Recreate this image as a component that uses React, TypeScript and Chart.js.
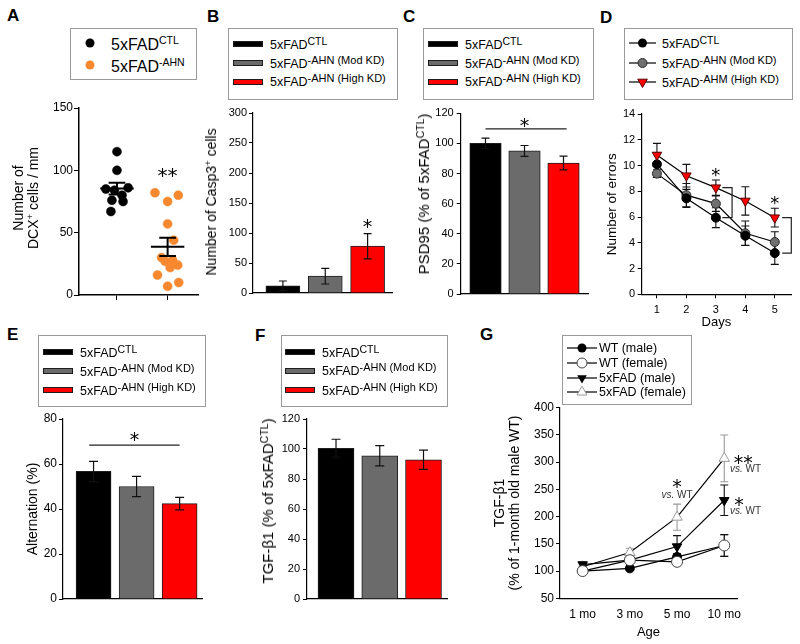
import React, { useEffect, useRef } from 'react';
import { Chart, registerables } from 'chart.js';

Chart.register(...registerables);

const FONT = 'Arial, "Liberation Sans", Helvetica, sans-serif';
const STAR_FONT = '"DejaVu Sans", Arial, sans-serif';

// ---------------- DATA ----------------
// Panel A: DCX+ cells / mm, individual animals (x jitter)
const aGroups = [1, 2];
const aCtlValues = [115, 100, 86, 85, 84, 80, 76, 75, 67];
const aCtlJitter = [0, 0, 0.22, -0.22, -0.05, 0.1, -0.1, 0.12, -0.12];
const aAhnValues = [82, 80, 75, 57, 44, 30, 28, 27, 24, 22, 16, 10, 7];
const aAhnJitter = [-0.25, 0.21, 0, 0, 0.12, -0.12, 0.1, -0.05, 0.2, 0.05, -0.2, 0.22, 0];
const aStars = [{ x: 2, y: 100, text: '**' }];

// Bars (B, C, E, F): CTL, Mod KD, High KD
const barGroups = [1, 2, 3];
const barColors = ['#000000', '#6b6b6b', '#ff0000'];
const bValues = [12, 28, 78];
const bErrors = [8, 13, 21];
const bStars = [{ x: 3, y: 118, text: '*' }];
const cValues = [100, 95, 87];
const cErrors = [3.5, 3.6, 4.6];
const cSig = { x1: 1, x2: 3.08, y: 109.6 };
const cStars = [{ x: 2, y: 114.5, text: '*' }];
const eValues = [56.7, 50, 42.4];
const eErrors = [4.5, 4.5, 2.8];
const eSig = { x1: 0.9, x2: 3, y: 68.4 };
const eStars = [{ x: 1.95, y: 72.9, text: '*' }];
const fValues = [100.5, 95.5, 92.8];
const fErrors = [6, 6.7, 6.4];

// Panel D: number of errors per day
const dDays = [1, 2, 3, 4, 5];
const dCtl = [10.1, 7.45, 5.95, 4.55, 3.2];
const dCtlErr = [0.9, 0.7, 0.77, 0.75, 0.88];
const dMod = [9.37, 7.7, 7.04, 4.74, 4.06];
const dModErr = [0.3, 0.9, 0.6, 0.95, 0.8];
const dHigh = [10.82, 9.21, 8.28, 7.25, 5.95];
const dHighErr = [0.9, 0.88, 0.6, 1.1, 0.73];
const dStars = [{ x: 3, y: 9.57, text: '*' }, { x: 5, y: 7.4, text: '*' }];
const dBrackets = [{ day: 3, x1: 3.22, x2: 3.55 }, { day: 5, x1: 5.25, x2: 5.56 }];

// Panel G: TGF-b1 by age
const gAgeIdx = [1, 2, 3, 4];
const gAges = ['1 mo', '3 mo', '5 mo', '10 mo'];
const gWtMale = [100, 105, 126, 147];
const gWtMaleErr = [4, 4, 6, 20];
const gWtFemale = [100, 120, 117, 147];
const gWtFemaleErr = [4, 5, 5, 20];
const gFadMale = [112, 120, 145, 230];
const gFadMaleErr = [4, 5, 20, 28];
const gFadFemale = [108, 134, 199, 307];
const gFadFemaleErr = [5, 8, 24, 43];
const gStars = [{ x: 3, y: 262, text: '*' }, { x: 4.4, y: 307, text: '**' }, { x: 4.31, y: 229, text: '*' }];
const gVsLabels = [{ x: 3, y: 241.7 }, { x: 4.45, y: 289 }, { x: 4.45, y: 212 }];

const barLegend = [
  { main: '5xFAD', sup: 'CTL' },
  { main: '5xFAD', sup: '-AHN (Mod KD)' },
  { main: '5xFAD', sup: '-AHN (High KD)' },
];
const dLegend = [
  { main: '5xFAD', sup: 'CTL' },
  { main: '5xFAD', sup: '-AHN (Mod KD)' },
  { main: '5xFAD', sup: '-AHM (High KD)' },
];
const gLegend = ['WT (male)', 'WT (female)', '5xFAD (male)', '5xFAD (female)'];

// ---------------- HELPERS ----------------
type Rect = [number, number, number, number];
interface Geo { c: Rect; a: Rect }

function layoutFor(g: Geo) {
  const [cl, ct, cr, cb] = g.c;
  const [al, at, ar, ab] = g.a;
  return { w: cr - cl, h: cb - ct, yW: al - cl, xH: cb - ab, top: at - ct, right: cr - ar };
}
type L = ReturnType<typeof layoutFor>;

function baseOptions(L: L, scales: any) {
  return {
    responsive: false,
    animation: false,
    events: [],
    layout: { padding: { left: 0, top: L.top, right: L.right, bottom: 0 } },
    plugins: { legend: { display: false }, tooltip: { enabled: false }, title: { display: false } },
    scales,
  };
}

function yScale(L: L, o: any) {
  return {
    type: 'linear',
    position: 'left',
    min: o.min,
    max: o.max,
    ticks: { stepSize: o.step, color: '#000', font: { family: FONT, size: o.size }, padding: o.pad },
    grid: { display: true, drawOnChartArea: false, drawTicks: true, tickLength: o.tickLen, color: '#000', lineWidth: 1 },
    border: { display: true, color: '#000', width: o.border ?? 1.2 },
    title: o.title || { display: false },
    afterFit: (s: any) => { s.width = L.yW; },
  };
}

function xScale(L: L, o: any) {
  const showTicks = !!o.ticks;
  return {
    type: 'linear',
    position: 'bottom',
    min: o.min,
    max: o.max,
    offset: false,
    afterBuildTicks: (s: any) => { s.ticks = (o.ticks || barGroups).map((v: number) => ({ value: v })); },
    ticks: {
      display: !!o.labels,
      color: '#000',
      font: { family: FONT, size: o.size || 11 },
      padding: o.pad ?? 3,
      maxRotation: 0,
      autoSkip: false,
      callback: o.labels || ((v: any) => v),
    },
    grid: showTicks && o.tickLen
      ? { display: true, offset: false, drawOnChartArea: false, drawTicks: true, tickLength: o.tickLen, color: '#000', lineWidth: 1 }
      : { display: false, offset: false, drawTicks: false },
    border: { display: true, color: '#000', width: o.border ?? 1.2 },
    title: o.title || { display: false },
    afterFit: (s: any) => { s.height = L.xH; },
  };
}

function drawErr(ctx: CanvasRenderingContext2D, cx: number, y1: number, y2: number, half: number, color: string, lw: number) {
  ctx.save();
  ctx.strokeStyle = color;
  ctx.lineWidth = lw;
  ctx.beginPath();
  ctx.moveTo(cx, y1); ctx.lineTo(cx, y2);
  ctx.moveTo(cx - half, y1); ctx.lineTo(cx + half, y1);
  ctx.moveTo(cx - half, y2); ctx.lineTo(cx + half, y2);
  ctx.stroke();
  ctx.restore();
}

function drawStars(chart: any, stars: { x: number; y: number; text: string }[], size: number) {
  const ctx = chart.ctx;
  const X = chart.scales.x, Y = chart.scales.y;
  ctx.save();
  ctx.fillStyle = '#000';
  ctx.font = `${size}px ${STAR_FONT}`;
  ctx.textAlign = 'center';
  ctx.textBaseline = 'alphabetic';
  stars.forEach((s) => {
    ctx.fillText(s.text, X.getPixelForValue(s.x), Y.getPixelForValue(s.y) + size * 0.56);
  });
  ctx.restore();
}

function drawHLine(chart: any, s: { x1: number; x2: number; y: number }) {
  const ctx = chart.ctx;
  const X = chart.scales.x, Y = chart.scales.y;
  ctx.save();
  ctx.strokeStyle = '#222';
  ctx.lineWidth = 1.2;
  ctx.beginPath();
  const y = Y.getPixelForValue(s.y);
  ctx.moveTo(X.getPixelForValue(s.x1), y);
  ctx.lineTo(X.getPixelForValue(s.x2), y);
  ctx.stroke();
  ctx.restore();
}

function ChartPanel({ geo, build }: { geo: Geo; build: (L: L) => any }) {
  const ref = useRef<HTMLCanvasElement | null>(null);
  const L = layoutFor(geo);
  useEffect(() => {
    if (!ref.current) return;
    const chart = new Chart(ref.current, build(layoutFor(geo)));
    return () => chart.destroy();
  }, []);
  return (
    <canvas
      ref={ref}
      width={L.w}
      height={L.h}
      style={{ position: 'absolute', left: geo.c[0], top: geo.c[1], width: L.w, height: L.h }}
    />
  );
}

// ---------------- CHART BUILDERS ----------------
const aGeo: Geo = { c: [40, 95, 205, 310], a: [79, 108, 198, 295] };
function buildA(L: L) {
  const groups = [
    { values: aCtlValues, jitter: aCtlJitter, color: '#000000' },
    { values: aAhnValues, jitter: aAhnJitter, color: '#f7882f' },
  ];
  return {
    type: 'scatter',
    data: {
      datasets: groups.map((g, gi) => ({
        data: g.values.map((v, i) => ({ x: aGroups[gi] + g.jitter[i], y: v })),
        pointRadius: 4.5,
        pointBackgroundColor: g.color,
        pointBorderColor: g.color,
        pointBorderWidth: 0.5,
        showLine: false,
      })),
    },
    options: baseOptions(L, {
      x: xScale(L, { min: 0.25, max: 2.6, ticks: aGroups, tickLen: 5, border: 1.5 }),
      y: yScale(L, { min: 0, max: 150, step: 50, size: 12, tickLen: 5, pad: 1, border: 1.5 }),
    }),
    plugins: [{
      id: 'meanSem',
      afterDatasetsDraw(chart: any) {
        const X = chart.scales.x, Y = chart.scales.y;
        const ctx = chart.ctx;
        groups.forEach((g, gi) => {
          const n = g.values.length;
          const mean = g.values.reduce((s, v) => s + v, 0) / n;
          const sd = Math.sqrt(g.values.reduce((s, v) => s + (v - mean) * (v - mean), 0) / (n - 1));
          const sem = sd / Math.sqrt(n);
          const cx = X.getPixelForValue(aGroups[gi]);
          const half = X.getPixelForValue(aGroups[gi] + 0.33) - cx;
          ctx.save();
          ctx.strokeStyle = '#000';
          ctx.lineWidth = 2;
          ctx.beginPath();
          ctx.moveTo(cx - half, Y.getPixelForValue(mean));
          ctx.lineTo(cx + half, Y.getPixelForValue(mean));
          ctx.stroke();
          ctx.restore();
          drawErr(ctx, cx, Y.getPixelForValue(mean + sem), Y.getPixelForValue(mean - sem), half * 0.5, '#000', 2);
        });
        drawStars(chart, aStars, 20);
      },
    }],
  };
}

function buildBar(L: L, o: any) {
  return {
    type: 'bar',
    data: {
      datasets: [{
        data: barGroups.map((g, i) => ({ x: g, y: o.values[i] })),
        backgroundColor: barColors,
        borderColor: '#1e1e1e',
        borderWidth: 1,
        barThickness: o.thick,
        grouped: false,
      }],
    },
    options: baseOptions(L, {
      x: xScale(L, { min: o.xMin, max: o.xMax }),
      y: yScale(L, { min: o.min, max: o.max, step: o.step, size: o.size, tickLen: 4, pad: o.pad }),
    }),
    plugins: [{
      id: 'barExtras',
      afterDatasetsDraw(chart: any) {
        const X = chart.scales.x, Y = chart.scales.y;
        barGroups.forEach((g, i) => {
          drawErr(chart.ctx, X.getPixelForValue(g), Y.getPixelForValue(o.values[i] + o.errors[i]),
            Y.getPixelForValue(o.values[i] - o.errors[i]), o.cap, '#111', 1.2);
        });
        if (o.sig) drawHLine(chart, o.sig);
        if (o.stars) drawStars(chart, o.stars, 19);
      },
    }],
  };
}

const bGeo: Geo = { c: [222, 100, 400, 305], a: [253, 113, 392, 293] };
const cGeo: Geo = { c: [430, 100, 598, 306], a: [460.7, 113.3, 588, 294] };
const eGeo: Geo = { c: [20, 405, 210, 612], a: [63, 419, 202, 599] };
const fGeo: Geo = { c: [275, 405, 455, 612], a: [307, 419, 447, 599] };

const buildB = (L: L) => buildBar(L, { values: bValues, errors: bErrors, min: 0, max: 300, step: 50, xMin: 0.294, xMax: 3.576, thick: 34, size: 11, pad: 2, cap: 4, stars: bStars });
const buildC = (L: L) => buildBar(L, { values: cValues, errors: cErrors, min: 0, max: 120, step: 20, xMin: 0.364, xMax: 3.628, thick: 31.5, size: 11, pad: 3, cap: 4, sig: cSig, stars: cStars });
const buildF = (L: L) => buildBar(L, { values: fValues, errors: fErrors, min: 0, max: 120, step: 20, xMin: 0.337, xMax: 3.537, thick: 36, size: 11, pad: 3, cap: 4.5 });
function buildE(L: L) {
  const cfg: any = buildBar(L, { values: eValues, errors: eErrors, min: 0, max: 80, step: 20, xMin: 0.29, xMax: 3.52, thick: 35, size: 12, pad: 2, cap: 4.5, sig: eSig, stars: eStars });
  cfg.options.scales.y.title = { display: true, text: 'Alternation (%)', color: '#000', font: { family: FONT, size: 14 }, padding: { top: 4.6, bottom: 0 } };
  return cfg;
}

const dGeo: Geo = { c: [600, 100, 800, 330], a: [641.7, 114, 791, 294.3] };
function buildD(L: L) {
  const series = [
    { values: dHigh, err: dHighErr, style: 'triangle', rot: 180, bg: '#ff0000', bd: '#5a0000', r: 5.5, order: 0 },
    { values: dCtl, err: dCtlErr, style: 'circle', rot: 0, bg: '#000000', bd: '#000000', r: 4.5, order: 1 },
    { values: dMod, err: dModErr, style: 'circle', rot: 0, bg: '#707070', bd: '#2a2a2a', r: 4.5, order: 2 },
  ];
  return {
    type: 'line',
    data: {
      datasets: series.map((s) => ({
        data: dDays.map((d, i) => ({ x: d, y: s.values[i] })),
        borderColor: '#000',
        borderWidth: 1.2,
        fill: false,
        tension: 0,
        pointStyle: s.style,
        pointRotation: s.rot,
        pointRadius: s.r,
        pointBackgroundColor: s.bg,
        pointBorderColor: s.bd,
        pointBorderWidth: 1,
        order: s.order,
        clip: false,
      })),
    },
    options: baseOptions(L, {
      x: xScale(L, {
        min: 0.483, max: 5.55, ticks: dDays, tickLen: 4, size: 11, pad: 5,
        labels: (v: any) => String(v),
        title: { display: true, text: 'Days', color: '#000', font: { family: FONT, size: 13 }, padding: { top: 0, bottom: 0 } },
      }),
      y: yScale(L, {
        min: 0, max: 14, step: 2, size: 11, tickLen: 4, pad: 2.5,
        title: { display: true, text: 'Number of errors', color: '#000', font: { family: FONT, size: 13.5 }, padding: { top: 3.9, bottom: 0 } },
      }),
    }),
    plugins: [{
      id: 'dErr',
      beforeDatasetsDraw(chart: any) {
        const X = chart.scales.x, Y = chart.scales.y;
        series.forEach((s) => {
          dDays.forEach((d, i) => {
            drawErr(chart.ctx, X.getPixelForValue(d), Y.getPixelForValue(s.values[i] + s.err[i]),
              Y.getPixelForValue(s.values[i] - s.err[i]), 4, '#111', 1.1);
          });
        });
      },
      afterDatasetsDraw(chart: any) {
        const X = chart.scales.x, Y = chart.scales.y;
        const ctx = chart.ctx;
        dBrackets.forEach((b) => {
          const i = dDays.indexOf(b.day);
          const yt = Y.getPixelForValue(dHigh[i]);
          const yb = Y.getPixelForValue(dCtl[i]);
          const x1 = X.getPixelForValue(b.x1), x2 = X.getPixelForValue(b.x2);
          ctx.save();
          ctx.strokeStyle = '#222';
          ctx.lineWidth = 1.2;
          ctx.beginPath();
          ctx.moveTo(x1, yt); ctx.lineTo(x2, yt); ctx.lineTo(x2, yb); ctx.lineTo(x1, yb);
          ctx.stroke();
          ctx.restore();
        });
        drawStars(chart, dStars, 18);
      },
    }],
  };
}

const gGeo: Geo = { c: [480, 395, 775, 640], a: [560, 407.7, 737, 598.3] };
function buildG(L: L) {
  const series = [
    { values: gWtFemale, err: gWtFemaleErr, style: 'circle', rot: 0, bg: '#ffffff', bd: '#444444', r: 5.5, ec: '#888888', order: 0 },
    { values: gWtMale, err: gWtMaleErr, style: 'circle', rot: 0, bg: '#000000', bd: '#000000', r: 4.5, ec: '#111111', order: 1 },
    { values: gFadMale, err: gFadMaleErr, style: 'triangle', rot: 180, bg: '#000000', bd: '#000000', r: 5.5, ec: '#111111', order: 2 },
    { values: gFadFemale, err: gFadFemaleErr, style: 'triangle', rot: 0, bg: '#ffffff', bd: '#999999', r: 6, ec: '#999999', order: 3 },
  ];
  return {
    type: 'line',
    data: {
      datasets: series.map((s) => ({
        data: gAgeIdx.map((a, i) => ({ x: a, y: s.values[i] })),
        borderColor: '#000',
        borderWidth: 1.2,
        fill: false,
        tension: 0,
        pointStyle: s.style,
        pointRotation: s.rot,
        pointRadius: s.r,
        pointBackgroundColor: s.bg,
        pointBorderColor: s.bd,
        pointBorderWidth: 1,
        order: s.order,
        clip: false,
      })),
    },
    options: baseOptions(L, {
      x: xScale(L, {
        min: 0.52, max: 4.27, ticks: gAgeIdx, tickLen: 0, size: 12, pad: 9.5,
        labels: (v: any) => gAges[Math.round(Number(v)) - 1],
        title: { display: true, text: 'Age', color: '#000', font: { family: FONT, size: 13 }, padding: { top: 0, bottom: 0 } },
      }),
      y: yScale(L, {
        min: 50, max: 400, step: 50, size: 12, tickLen: 4, pad: 2,
        title: { display: true, text: ['TGF-β1', '(% of 1-month old male WT)'], color: '#000', font: { family: FONT, size: 14, lineHeight: '15px' }, padding: { top: 12.5, bottom: 0 } },
      }),
    }),
    plugins: [{
      id: 'gExtras',
      beforeDatasetsDraw(chart: any) {
        const X = chart.scales.x, Y = chart.scales.y;
        series.forEach((s) => {
          gAgeIdx.forEach((a, i) => {
            drawErr(chart.ctx, X.getPixelForValue(a), Y.getPixelForValue(s.values[i] + s.err[i]),
              Y.getPixelForValue(s.values[i] - s.err[i]), 4, s.ec, 1.1);
          });
        });
      },
      afterDatasetsDraw(chart: any) {
        const X = chart.scales.x, Y = chart.scales.y;
        const ctx = chart.ctx;
        drawStars(chart, gStars, 19);
        ctx.save();
        ctx.fillStyle = '#333';
        ctx.textBaseline = 'alphabetic';
        ctx.textAlign = 'left';
        gVsLabels.forEach((v) => {
          ctx.font = `italic 10px ${FONT}`;
          const w1 = ctx.measureText('vs.').width;
          ctx.font = `10px ${FONT}`;
          const w2 = ctx.measureText(' WT').width;
          const x0 = X.getPixelForValue(v.x) - (w1 + w2) / 2;
          const y0 = Y.getPixelForValue(v.y) + 3.6;
          ctx.font = `italic 10px ${FONT}`;
          ctx.fillText('vs.', x0, y0);
          ctx.font = `10px ${FONT}`;
          ctx.fillText(' WT', x0 + w1, y0);
        });
        ctx.restore();
      },
    }],
  };
}

// ---------------- HTML TEXT HELPERS ----------------
function Txt({ x, y, size, bold, children }: { x: number; y: number; size: number; bold?: boolean; children: any }) {
  const lh = Math.round(size * 1.2);
  return (
    <div style={{ position: 'absolute', left: x, top: y - lh / 2, fontSize: size, lineHeight: `${lh}px`, fontWeight: bold ? 'bold' : 'normal', whiteSpace: 'nowrap' }}>
      {children}
    </div>
  );
}

function Sup({ size, raise, children }: { size: number; raise: number; children: any }) {
  return <span style={{ fontSize: size, verticalAlign: `${raise}px`, lineHeight: 0 }}>{children}</span>;
}

function RotTxt({ cx, cy, size, lh, children }: { cx: number; cy: number; size: number; lh: number; children: any }) {
  return (
    <div style={{ position: 'absolute', left: cx, top: cy, fontSize: size, lineHeight: `${lh}px`, whiteSpace: 'nowrap', textAlign: 'center', transform: 'translate(-50%, -50%) rotate(-90deg)' }}>
      {children}
    </div>
  );
}

function Box({ r }: { r: Rect }) {
  return <div style={{ position: 'absolute', left: r[0], top: r[1], width: r[2] - r[0], height: r[3] - r[1], border: '1px solid #9a9a9a', boxSizing: 'border-box', background: 'transparent' }} />;
}

function BarLegend({ box, swX, txtX, rows }: { box: Rect; swX: number; txtX: number; rows: number[] }) {
  return (
    <>
      <Box r={box} />
      {barLegend.map((item, i) => (
        <React.Fragment key={i}>
          <div style={{ position: 'absolute', left: swX, top: rows[i] - 3, width: 30, height: 6, background: barColors[i], border: '1px solid #1e1e1e', boxSizing: 'border-box' }} />
          <Txt x={txtX} y={rows[i] + 1} size={12.5}>
            {item.main}<Sup size={item.sup === 'CTL' ? 10.5 : 11} raise={4}>{item.sup}</Sup>
          </Txt>
        </React.Fragment>
      ))}
    </>
  );
}

function Marker({ kind, cx, cy }: { kind: string; cx: number; cy: number }) {
  if (kind === 'circleBlack') return <circle cx={cx} cy={cy} r={4.5} fill="#000" />;
  if (kind === 'circleGray') return <circle cx={cx} cy={cy} r={4.5} fill="#707070" stroke="#2a2a2a" strokeWidth={1} />;
  if (kind === 'circleOpen') return <circle cx={cx} cy={cy} r={5} fill="#fff" stroke="#444" strokeWidth={1} />;
  if (kind === 'triDownRed') return <polygon points={`${cx - 4.8},${cy - 2.8} ${cx + 4.8},${cy - 2.8} ${cx},${cy + 5.5}`} fill="#ff0000" stroke="#5a0000" strokeWidth={1} />;
  if (kind === 'triDownBlack') return <polygon points={`${cx - 4.8},${cy - 2.8} ${cx + 4.8},${cy - 2.8} ${cx},${cy + 5.5}`} fill="#000" />;
  return <polygon points={`${cx - 5},${cy + 3} ${cx + 5},${cy + 3} ${cx},${cy - 5.8}`} fill="#fff" stroke="#999" strokeWidth={1} />;
}

function LineLegendSymbol({ x, y, w, kind }: { x: number; y: number; w: number; kind: string }) {
  return (
    <svg width={w} height={16} style={{ position: 'absolute', left: x, top: y - 8, overflow: 'visible' }}>
      <line x1={0} y1={8} x2={w} y2={8} stroke="#000" strokeWidth={1.2} />
      <Marker kind={kind} cx={w / 2} cy={8} />
    </svg>
  );
}

// ---------------- APP ----------------
export default function App() {
  const dRows = [43, 63, 82];
  const dKinds = ['circleBlack', 'circleGray', 'triDownRed'];
  const gRows = [348, 363, 378, 392];
  const gKinds = ['circleBlack', 'circleOpen', 'triDownBlack', 'triUpOpen'];
  return (
    <div style={{ position: 'absolute', left: 0, top: 0, width: 800, height: 644, background: '#fff', overflow: 'hidden', fontFamily: FONT, color: '#000' }}>
      <ChartPanel geo={aGeo} build={buildA} />
      <ChartPanel geo={bGeo} build={buildB} />
      <ChartPanel geo={cGeo} build={buildC} />
      <ChartPanel geo={dGeo} build={buildD} />
      <ChartPanel geo={eGeo} build={buildE} />
      <ChartPanel geo={fGeo} build={buildF} />
      <ChartPanel geo={gGeo} build={buildG} />

      {/* panel letters */}
      <Txt x={7} y={16} size={17} bold>A</Txt>
      <Txt x={207} y={17} size={17} bold>B</Txt>
      <Txt x={403} y={17} size={17} bold>C</Txt>
      <Txt x={600} y={18} size={17} bold>D</Txt>
      <Txt x={7} y={335} size={17} bold>E</Txt>
      <Txt x={255} y={336} size={17} bold>F</Txt>
      <Txt x={480} y={335} size={17} bold>G</Txt>

      {/* Panel A legend + title */}
      <Box r={[70, 28, 197, 80]} />
      <svg width={12} height={12} style={{ position: 'absolute', left: 84, top: 37 }}><circle cx={6} cy={6} r={4.5} fill="#000" /></svg>
      <svg width={12} height={12} style={{ position: 'absolute', left: 84, top: 59 }}><circle cx={6} cy={6} r={4.5} fill="#f7882f" /></svg>
      <Txt x={111} y={44} size={16}>5xFAD<Sup size={10.5} raise={6}>CTL</Sup></Txt>
      <Txt x={111} y={66} size={16}>5xFAD<Sup size={10.5} raise={6}>-AHN</Sup></Txt>
      <RotTxt cx={26} cy={198} size={14} lh={15}>
        <div>Number of</div>
        <div>DCX<Sup size={9.5} raise={5}>+</Sup> cells / mm</div>
      </RotTxt>

      {/* Panel B */}
      <BarLegend box={[228, 28, 398, 100]} swX={233} txtX={270} rows={[44.3, 63.3, 81.7]} />
      <RotTxt cx={211} cy={202} size={14} lh={16}>
        Number of Casp3<Sup size={9.5} raise={5}>+</Sup> cells
      </RotTxt>

      {/* Panel C */}
      <BarLegend box={[423, 28, 594, 100]} swX={428} txtX={465} rows={[44.3, 63.3, 81.7]} />
      <RotTxt cx={424} cy={194} size={15} lh={16}>
        PSD95 (% of 5xFAD<Sup size={10.5} raise={5}>CTL</Sup>)
      </RotTxt>

      {/* Panel D legend */}
      <Box r={[624, 28, 793, 100]} />
      {dLegend.map((item, i) => (
        <React.Fragment key={i}>
          <LineLegendSymbol x={629} y={dRows[i]} w={27} kind={dKinds[i]} />
          <Txt x={662} y={dRows[i] + 1} size={12.5}>
            {item.main}<Sup size={item.sup === 'CTL' ? 10.5 : 11} raise={4}>{item.sup}</Sup>
          </Txt>
        </React.Fragment>
      ))}

      {/* Panel E */}
      <BarLegend box={[38, 335, 206, 407]} swX={43} txtX={80} rows={[352, 371, 390]} />

      {/* Panel F */}
      <BarLegend box={[281, 335, 448, 407]} swX={285} txtX={322} rows={[352, 370.5, 390]} />
      <RotTxt cx={268} cy={501} size={15} lh={16}>
        TGF-β1 (% of 5xFAD<Sup size={10.5} raise={5}>CTL</Sup>)
      </RotTxt>

      {/* Panel G legend */}
      <Box r={[562, 335, 692, 405]} />
      {gLegend.map((t, i) => (
        <React.Fragment key={i}>
          <LineLegendSymbol x={567} y={gRows[i]} w={30} kind={gKinds[i]} />
          <Txt x={599} y={gRows[i] + 0.5} size={12.5}>{t}</Txt>
        </React.Fragment>
      ))}
    </div>
  );
}
